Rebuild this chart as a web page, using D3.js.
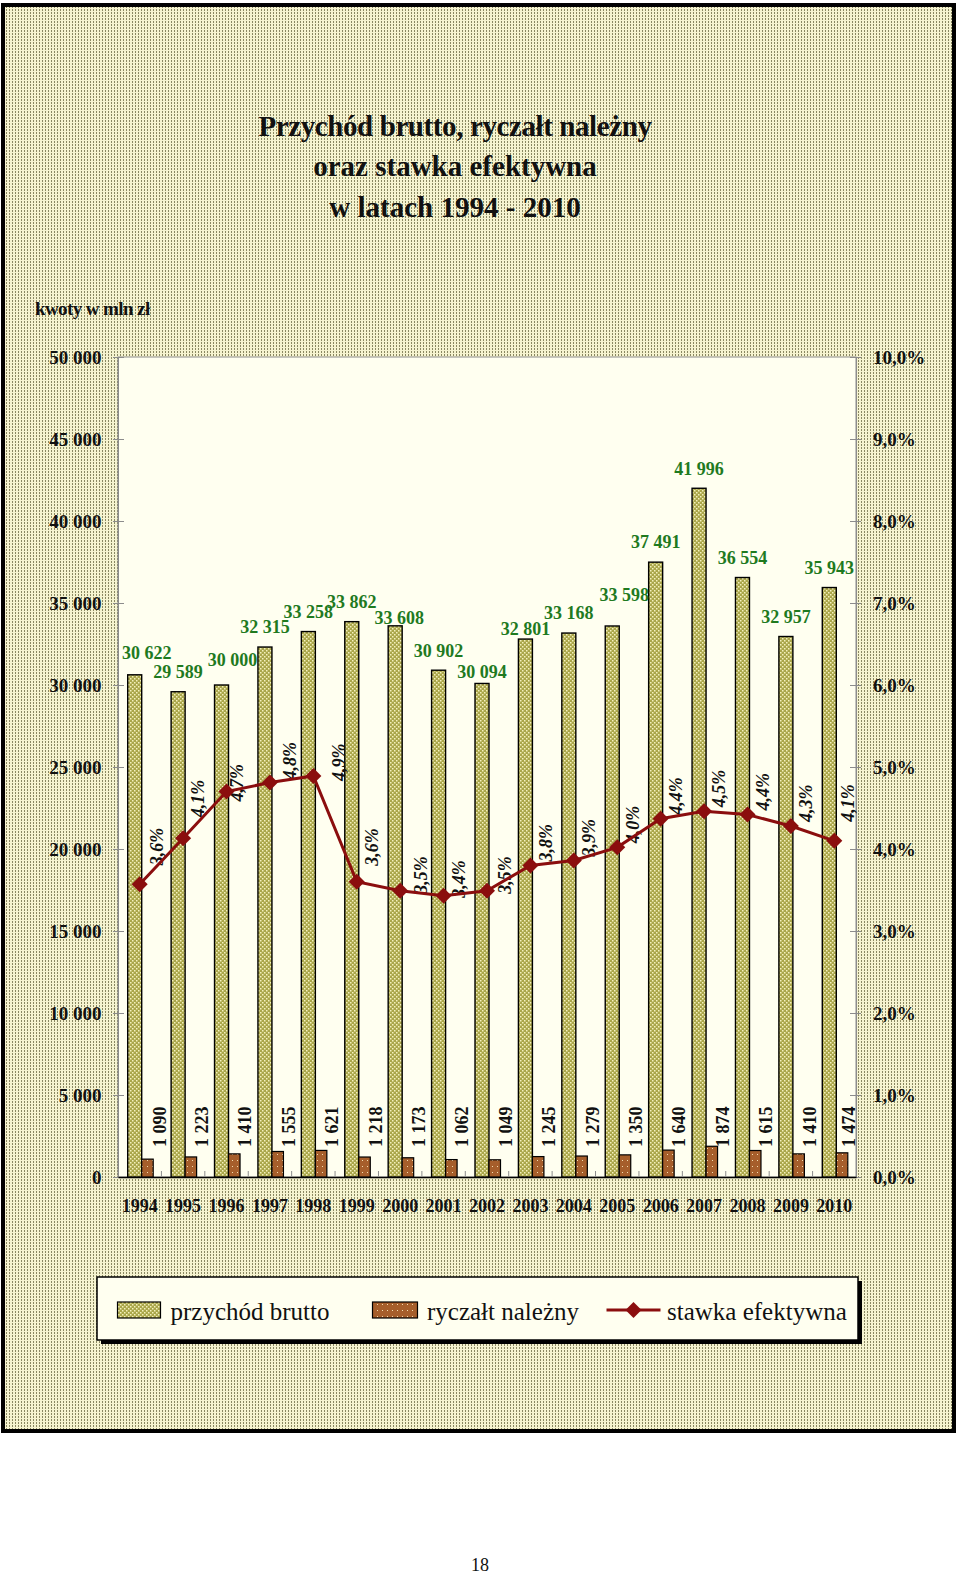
<!DOCTYPE html>
<html><head><meta charset="utf-8">
<script src="https://cdn.jsdelivr.net/npm/d3@7"></script>
<style>body{margin:0;background:#fff}svg{display:block}</style>
</head><body><svg id="c" width="960" height="1575"></svg>
<script>
// ---- data ----
const years = ["1994","1995","1996","1997","1998","1999","2000","2001","2002","2003","2004","2005","2006","2007","2008","2009","2010"];
const przychod = [30622,29589,30000,32315,33258,33862,33608,30902,30094,32801,33168,33598,37491,41996,36554,32957,35943];
const ryczalt = [1090,1223,1410,1555,1621,1218,1173,1062,1049,1245,1279,1350,1640,1874,1615,1410,1474];
const stawka = [3.57,4.13,4.70,4.81,4.89,3.60,3.49,3.43,3.49,3.80,3.86,4.02,4.37,4.46,4.42,4.28,4.10];
const leftTicks = [0,5000,10000,15000,20000,25000,30000,35000,40000,45000,50000];
const rightTicks = [0,1,2,3,4,5,6,7,8,9,10];
const titleLines = ["Przychód brutto, ryczałt należny","oraz stawka efektywna","w latach 1994 - 2010"];
const unitLabel = "kwoty w mln zł";
const legendLabels = ["przychód brutto","ryczałt należny","stawka efektywna"];
const pageNumber = "18";

// ---- layout (manual label nudges as in the source document) ----
const revNudge = {"1994":[12,-2],"1996":[11,-5],"2000":[4,12],"2002":[0,8],"2003":[0,10],"2005":[12,-11]};
const pctNudge = {"1994":[2,-15],"1995":[0,-17],"1996":[-5,14],"1997":[5,1],"1998":[10,9],"1999":[0,-12],"2000":[6,7],"2001":[0,6],"2002":[3,7],"2010":[-2,-15]};
const ryczNudge = {"1994":[1.5],"2010":[-4]};

const svg = d3.select("#c");
const serif = "'Liberation Serif','Times New Roman',serif";
const defs = svg.append("defs");

// background dotted pattern
const pBg = defs.append("pattern").attr("id","bg").attr("patternUnits","userSpaceOnUse").attr("width",3).attr("height",3);
pBg.append("rect").attr("width",3).attr("height",3).attr("fill","#f6f4d0");
pBg.append("rect").attr("width",1).attr("height",2).attr("fill","#8a8862");

// green bars pattern
const pG = defs.append("pattern").attr("id","pg").attr("patternUnits","userSpaceOnUse").attr("width",4).attr("height",4);
pG.append("rect").attr("width",4).attr("height",4).attr("fill","#aaa64a");
pG.append("rect").attr("x",0).attr("y",0).attr("width",1.5).attr("height",1.5).attr("fill","#f4f1bc");
pG.append("rect").attr("x",2).attr("y",2).attr("width",1.5).attr("height",1.5).attr("fill","#f4f1bc");

// brown bars pattern
const pB = defs.append("pattern").attr("id","pb").attr("patternUnits","userSpaceOnUse").attr("width",5).attr("height",6);
pB.append("rect").attr("width",5).attr("height",6).attr("fill","#a65e2b");
pB.append("rect").attr("x",2).attr("y",2).attr("width",1).attr("height",1).attr("fill","#f3dcb0");

// frame
svg.append("rect").attr("x",3).attr("y",5).attr("width",951).attr("height",1426)
  .attr("fill","url(#bg)").attr("stroke","#000").attr("stroke-width",4);

// title
svg.append("g").selectAll("text").data(titleLines).join("text")
  .attr("x",455).attr("y",(d,i)=>136+i*40.3)
  .attr("text-anchor","middle").attr("font-family",serif).attr("font-weight","bold")
  .attr("font-size",29).attr("letter-spacing",(d,i)=>i===0?-0.4:0).attr("fill","#111").text(d=>d);

svg.append("text").attr("x",35).attr("y",314.5).attr("font-family",serif).attr("font-weight","bold")
  .attr("font-size",19).attr("letter-spacing",-0.6).attr("fill","#111").text(unitLabel);

// scales
const L=118,R=856,T=357,B=1177;
const x = d3.scaleBand().domain(years).range([L,R]);
const y = d3.scaleLinear().domain([0,50000]).range([B,T]);
const yr = d3.scaleLinear().domain([0,10]).range([B,T]);
const cx = d => x(d)+x.bandwidth()/2;
const fmtN = v => d3.format(",")(v).replace(/,/g," ");
const fmtP = v => v.toFixed(1).replace(".",",")+"%";

// plot area
svg.append("rect").attr("x",L).attr("y",T).attr("width",R-L).attr("height",B-T)
  .attr("fill","#fffff0").attr("stroke","#8c8c8c").attr("stroke-width",1);

// left axis
const gl = svg.append("g").attr("transform",`translate(${L},0)`)
  .call(d3.axisLeft(y).tickValues(leftTicks).tickSize(5).tickFormat(fmtN));
gl.select(".domain").attr("stroke","#8c8c8c");
gl.selectAll(".tick line").attr("x1",6).attr("x2",-5).attr("stroke","#8c8c8c");
gl.selectAll(".tick text").attr("x",-16.5).attr("font-family",serif).attr("font-weight","bold")
  .attr("font-size",19).attr("fill","#111");

// right axis
const gr = svg.append("g").attr("transform",`translate(${R},0)`)
  .call(d3.axisRight(yr).tickValues(rightTicks).tickSize(5).tickFormat(v=>v.toFixed(1).replace(".",",")+"%"));
gr.select(".domain").attr("stroke","#8c8c8c");
gr.selectAll(".tick line").attr("x1",-6).attr("x2",5).attr("stroke","#8c8c8c");
gr.selectAll(".tick text").attr("x",17).attr("font-family",serif).attr("font-weight","bold")
  .attr("font-size",19).attr("fill","#111");

// bottom axis
const gb = svg.append("g").attr("transform",`translate(0,${B})`)
  .call(d3.axisBottom(x).tickSize(0));
gb.select(".domain").attr("stroke","#000").attr("stroke-width",1.5);
gb.selectAll(".tick text").attr("y",22).attr("font-family",serif).attr("font-weight","bold")
  .attr("font-size",18).attr("fill","#111");
// category boundary ticks
svg.append("g").selectAll("line").data(years.slice(1)).join("line")
  .attr("x1",d=>x(d)).attr("x2",d=>x(d)).attr("y1",B).attr("y2",B-6)
  .attr("stroke","#8c8c8c");

// bars
svg.append("g").selectAll("rect").data(years).join("rect")
  .attr("x",d=>cx(d)-12).attr("width",14)
  .attr("y",(d,i)=>y(przychod[i])).attr("height",(d,i)=>B-y(przychod[i]))
  .attr("fill","url(#pg)").attr("stroke","#000").attr("stroke-width",1.4);
svg.append("g").selectAll("rect").data(years).join("rect")
  .attr("x",d=>cx(d)+2).attr("width",11.5)
  .attr("y",(d,i)=>y(ryczalt[i])).attr("height",(d,i)=>B-y(ryczalt[i]))
  .attr("fill","url(#pb)").attr("stroke","#000").attr("stroke-width",1.2);

// przychód labels
svg.append("g").selectAll("text").data(years).join("text")
  .attr("x",(d)=>cx(d)-5+((revNudge[d]||[0,0])[0]))
  .attr("y",(d,i)=>y(przychod[i])-20+((revNudge[d]||[0,0])[1]))
  .attr("dy","0.35em").attr("text-anchor","middle")
  .attr("font-family",serif).attr("font-weight","bold").attr("font-size",18)
  .attr("fill","#1f7a1f").text((d,i)=>fmtN(przychod[i]));

// ryczałt labels (rotated)
svg.append("g").selectAll("text").data(years).join("text")
  .attr("transform",d=>`translate(${cx(d)+18.5+((ryczNudge[d]||[0])[0])},${B-30}) rotate(-90)`)
  .attr("dy","0.35em").attr("text-anchor","start")
  .attr("font-family",serif).attr("font-weight","bold").attr("font-size",18)
  .attr("fill","#111").text((d,i)=>fmtN(ryczalt[i]));

// stawka labels (rotated italic)
svg.append("g").selectAll("text").data(years).join("text")
  .attr("transform",(d,i)=>{const n=pctNudge[d]||[0,0];return `translate(${cx(d)+15+n[0]},${yr(stawka[i])-4+n[1]}) rotate(-90)`;})
  .attr("dy","0.35em").attr("text-anchor","start")
  .attr("font-family",serif).attr("font-weight","bold").attr("font-style","italic").attr("font-size",18)
  .attr("fill","#111").text((d,i)=>fmtP(stawka[i]));

// line + markers
const lineColor = "#8b0e0e";
svg.append("path").datum(years)
  .attr("d",d3.line().x(d=>cx(d)).y((d,i)=>yr(stawka[i])))
  .attr("fill","none").attr("stroke",lineColor).attr("stroke-width",3);
const diamond = d3.symbol(d3.symbolSquare, 128);
svg.append("g").selectAll("path").data(years).join("path")
  .attr("d",diamond).attr("transform",(d,i)=>`translate(${cx(d)},${yr(stawka[i])}) rotate(45)`)
  .attr("fill",lineColor);

// legend
const lg = svg.append("g");
lg.append("rect").attr("x",101).attr("y",1281).attr("width",761).attr("height",63).attr("fill","#000");
lg.append("rect").attr("x",97).attr("y",1277).attr("width",761).attr("height",63)
  .attr("fill","#fffff0").attr("stroke","#000").attr("stroke-width",1.5);
const legX = [117.5, 372.5, 606.5];
const legTx = [170.5, 427, 667];
const items = lg.selectAll("g.item").data(legendLabels).join("g").attr("class","item");
items.filter((d,i)=>i<2).append("rect")
  .attr("x",(d,i)=>legX[i]).attr("y",1302).attr("width",(d,i)=>i===0?43:45).attr("height",16)
  .attr("fill",(d,i)=>i===0?"url(#pg)":"url(#pb)").attr("stroke","#000").attr("stroke-width",1.2);
const li = items.filter((d,i)=>i===2);
li.append("line").attr("x1",legX[2]).attr("x2",legX[2]+54).attr("y1",1310).attr("y2",1310)
  .attr("stroke",lineColor).attr("stroke-width",3);
li.append("path").attr("d",diamond).attr("transform",`translate(${legX[2]+27},1310) rotate(45)`).attr("fill",lineColor);
items.append("text").attr("x",(d,i)=>legTx[i]).attr("y",1320)
  .attr("font-family",serif).attr("font-size",25).attr("fill","#111").text(d=>d);

// page number
svg.append("text").attr("x",480).attr("y",1571).attr("text-anchor","middle")
  .attr("font-family",serif).attr("font-size",18).attr("fill","#111").text(pageNumber);
</script></body></html>
